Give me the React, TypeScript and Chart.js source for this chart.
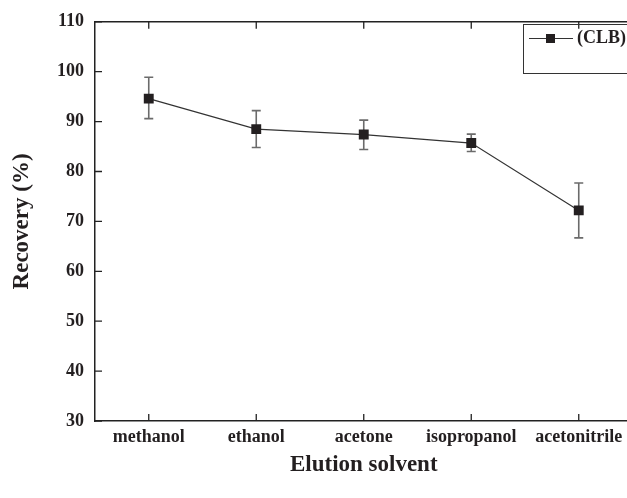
import React, { useEffect, useRef } from "react";
import { Chart, registerables } from "chart.js";

Chart.register(...registerables);

const categories = ["methanol", "ethanol", "acetone", "isopropanol", "acetonitrile"];
const recovery = [94.6, 88.5, 87.4, 85.7, 72.2];
const errUpper = [98.9, 92.2, 90.3, 87.5, 77.7];
const errLower = [90.6, 84.8, 84.4, 84.0, 66.7];
const seriesLabel = "(CLB)";
const yTitle = "Recovery (%)";
const xTitle = "Elution solvent";

const FONT = "'Liberation Serif', 'Times New Roman', serif";
const INK = "#231f20";

const errorBarPlugin = {
  id: "errorBars",
  beforeDatasetsDraw(chart: any) {
    const { ctx, scales } = chart;
    const x = scales.x;
    const y = scales.y;
    ctx.save();
    ctx.strokeStyle = "#6b6b6b";
    ctx.lineWidth = 1.6;
    for (let i = 0; i < categories.length; i++) {
      const px = x.getPixelForValue(i);
      const top = y.getPixelForValue(errUpper[i]);
      const bot = y.getPixelForValue(errLower[i]);
      ctx.beginPath();
      ctx.moveTo(px, top);
      ctx.lineTo(px, bot);
      ctx.moveTo(px - 4.5, top);
      ctx.lineTo(px + 4.5, top);
      ctx.moveTo(px - 4.5, bot);
      ctx.lineTo(px + 4.5, bot);
      ctx.stroke();
    }
    ctx.restore();
  },
};

const framePlugin = {
  id: "frame",
  afterDraw(chart: any) {
    const { ctx, chartArea, scales } = chart;
    const { left, right, top, bottom } = chartArea;
    ctx.save();
    ctx.strokeStyle = "#222";
    ctx.lineWidth = 1.5;
    // top border
    ctx.beginPath();
    ctx.moveTo(left, top);
    ctx.lineTo(right, top);
    ctx.stroke();
    const tl = 7;
    ctx.lineWidth = 1.3;
    ctx.beginPath();
    scales.x.ticks.forEach((_t: any, i: number) => {
      const px = scales.x.getPixelForTick(i);
      ctx.moveTo(px, bottom);
      ctx.lineTo(px, bottom - tl);
      ctx.moveTo(px, top);
      ctx.lineTo(px, top + tl);
    });
    scales.y.ticks.forEach((_t: any, i: number) => {
      const py = scales.y.getPixelForTick(i);
      ctx.moveTo(left, py);
      ctx.lineTo(left + tl, py);
    });
    ctx.stroke();

    // legend box
    const bx = 523;
    const by = 24;
    ctx.lineWidth = 1;
    ctx.strokeStyle = "#333";
    ctx.strokeRect(bx + 0.5, by + 0.5, 140, 49);
    const ly = 38.5;
    ctx.strokeStyle = "#333";
    ctx.lineWidth = 1;
    ctx.beginPath();
    ctx.moveTo(529, ly);
    ctx.lineTo(573, ly);
    ctx.stroke();
    ctx.fillStyle = INK;
    ctx.fillRect(546, ly - 4.5, 9, 9);
    ctx.font = `bold 18px ${FONT}`;
    ctx.textBaseline = "middle";
    ctx.textAlign = "left";
    ctx.fillText(seriesLabel, 577, ly);
    ctx.restore();
  },
};

export default function App() {
  const ref = useRef<HTMLCanvasElement | null>(null);
  useEffect(() => {
    if (!ref.current) return;
    const chart = new Chart(ref.current, {
      type: "line",
      data: {
        labels: categories,
        datasets: [
          {
            label: seriesLabel,
            data: recovery,
            borderColor: "#333",
            borderWidth: 1.2,
            pointStyle: "rect",
            pointRadius: 7,
            pointBackgroundColor: INK,
            pointBorderColor: INK,
            pointBorderWidth: 0,
            tension: 0,
          },
        ],
      },
      options: {
        responsive: false,
        animation: false,
        layout: { padding: { top: 20, right: 7.5, left: 0, bottom: 0 } },
        plugins: { legend: { display: false }, tooltip: { enabled: false } },
        scales: {
          x: {
            type: "category",
            offset: true,
            grid: { display: false, drawTicks: false },
            border: { display: true, color: "#222", width: 1.5 },
            ticks: {
              color: INK,
              padding: 6,
              maxRotation: 0,
              autoSkip: false,
              font: { family: FONT, size: 18, weight: "bold" },
            },
            title: {
              display: true,
              text: xTitle,
              color: INK,
              font: { family: FONT, size: 23, weight: "bold" },
              padding: { top: 0, bottom: 19 },
            },
            afterFit: (s: any) => {
              s.height = 77;
            },
          },
          y: {
            min: 30,
            max: 110,
            grid: { display: false, drawTicks: false },
            border: { display: true, color: "#222", width: 1.5 },
            ticks: {
              stepSize: 10,
              color: INK,
              padding: 11,
              font: { family: FONT, size: 18, weight: "bold" },
            },
            title: {
              display: true,
              text: yTitle,
              color: INK,
              font: { family: FONT, size: 23, weight: "bold" },
              padding: { top: 8, bottom: 0 },
            },
            afterFit: (s: any) => {
              s.width = 95;
            },
          },
        },
      },
      plugins: [errorBarPlugin, framePlugin],
    });
    return () => chart.destroy();
  }, []);
  return (
    <div
      style={{
        position: "absolute",
        left: 0,
        top: 0,
        width: 627,
        height: 498,
        overflow: "hidden",
        background: "#fff",
      }}
    >
      <canvas ref={ref} width={640} height={498} style={{ display: "block" }} />
    </div>
  );
}
